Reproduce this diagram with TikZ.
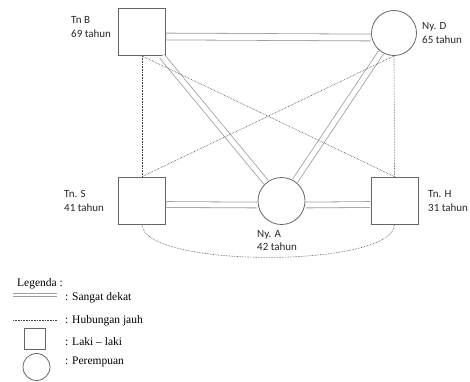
\documentclass[tikz,border=0pt]{standalone}
\usepackage{fontspec}
\setmainfont{Liberation Serif}
\newfontfamily\labelfont{Carlito}
\tikzset{
	laki/.style={draw=black!60, line width=0.8pt, minimum size=47pt, inner sep=0pt},
	perempuan/.style={circle, draw=black!60, line width=0.8pt, minimum size=47pt, inner sep=0pt},
	dekat/.style={draw=black!38, line width=0.8pt, double=white, double distance=6pt, shorten <=0.4pt, shorten >=0.4pt},
	jauh/.style={draw=black!75, line width=0.6pt, densely dotted},
	nama/.style={font=\labelfont\fontsize{11}{13.5}\selectfont, align=left, anchor=west, inner sep=0pt, text=black!85},
	legenda/.style={font=\fontsize{11.5}{13}\selectfont, anchor=west, inner sep=0pt},
}
\begin{document}
\begin{tikzpicture}[x=1pt, y=-1pt]
			\useasboundingbox (0,0) rectangle (470,381);
			%%%%% START %%%%%
			
			\node[laki] (tnB) at (142, 32) {};
			\node[perempuan, minimum size=45pt] (nyD) at (394, 33) {};
			\node[laki] (tnS) at (142, 200.5) {};
			\node[perempuan] (nyA) at (281.5, 201) {};
			\node[laki] (tnH) at (394.5, 200.5) {};
			
			\node[nama] (namaB) at (71, 27) {Tn B\\69 tahun};
			\node[nama] (namaD) at (422, 33) {Ny. D\\65 tahun};
			\node[nama] (namaS) at (64, 201) {Tn. S\\41 tahun};
			\node[nama] (namaH) at (428, 201) {Tn. H\\31 tahun};
			\node[nama] (namaA) at (257, 240.5) {Ny. A\\42 tahun};
			
			\draw[dekat] ([yshift=-4.5pt]tnB.east) -- ([yshift=-4.5pt]nyD.west);
			\draw[dekat, double distance=5pt] ([yshift=-4pt]tnS.east) -- ([yshift=-4pt]nyA.west);
			\draw[dekat, double distance=5pt] ([yshift=-4pt]nyA.east) -- ([yshift=-4pt]tnH.west);
			\draw[dekat, double distance=5pt] (tnB) -- (nyA);
			\draw[dekat, double distance=5pt] (nyD) -- (nyA);
			
			\draw[jauh] (tnB.south) -- (tnS.north);
			\draw[jauh] (nyD.south) -- (tnH.north);
			\draw[jauh] (tnB.south) -- (tnH.north);
			\draw[jauh] (nyD.south) -- (tnS.north);
			\draw[jauh] (tnS.south) .. controls +(0,44) and +(0,44) .. (tnH.south);
			
			%%%%% LEGENDA %%%%%
			
			\node[legenda] (judul) at (17, 284) {Legenda :};
			
			\coordinate (dekatKiri) at (13, 295);
			\coordinate (dekatKanan) at (57, 295);
			\draw[dekat, line width=1pt, double distance=1.5pt] (dekatKiri) -- (dekatKanan);
			\node[legenda] (ketDekat) at (65, 297.5) {: Sangat dekat};
			
			\coordinate (jauhKiri) at (13, 320);
			\coordinate (jauhKanan) at (57, 320);
			\draw[jauh] (jauhKiri) -- (jauhKanan);
			\node[legenda] (ketJauh) at (65, 321) {: Hubungan jauh};
			
			\node[laki, minimum size=21pt] (simbolLaki) at (35, 339) {};
			\node[legenda] (ketLaki) at (65, 342) {: Laki – laki};
			
			\node[perempuan, minimum size=27pt] (simbolPerempuan) at (36.5, 367) {};
			\node[legenda] (ketPerempuan) at (65, 362) {: Perempuan};
			
			%%%%% END %%%%%
		\end{tikzpicture}
\end{document}
